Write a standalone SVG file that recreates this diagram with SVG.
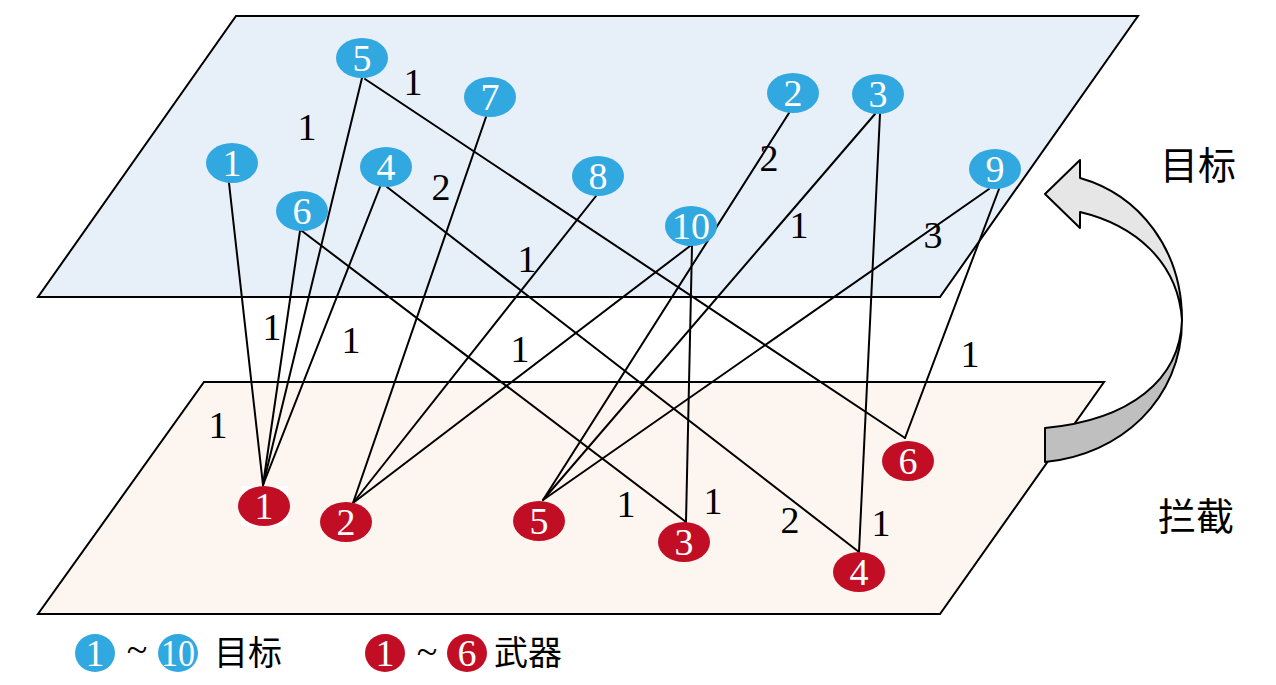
<svg xmlns="http://www.w3.org/2000/svg" width="1276" height="685" viewBox="0 0 1276 685">
<style>
.plane{stroke:#000;stroke-width:2}
.edge{stroke:#000;stroke-width:2;fill:none;stroke-linecap:round}
.bn{fill:#31A8E0}
.rn{fill:#C10E25}
.nt{font-family:"Liberation Serif","Times New Roman",serif;font-size:38px;fill:#fff;text-anchor:middle}
.wt{font-family:"Liberation Serif","Times New Roman",serif;font-size:38px;fill:#000;text-anchor:middle}
.cj{font-family:"Noto Sans CJK SC",sans-serif;fill:#000;text-anchor:middle}
.arr{stroke:#000;stroke-width:2;stroke-linejoin:round}
</style>
<rect width="1276" height="685" fill="#fff"/>
<g id="planes">
<polygon class="plane" points="236,16 1138,16 940,297 38,297" fill="#E7EFF9"/>
<polygon class="plane" points="204,382 1104,382 940,614 38,614" fill="#FDF5F0"/>
</g>
<g id="cycle-arrow">
<path class="arr" fill="#E6E6E6" d="M1080,178 C1140,195 1182,250 1182,320 C1178,262 1135,225 1080,212 L1080,228 L1045,194 L1080,160 Z"/>
<path class="arr" fill="#BFBFBF" d="M1045,428 C1130,420 1180,380 1182,320 C1182,400 1120,455 1045,462 Z"/>
</g>
<g id="connectors">
<line class="edge" x1="229" y1="183" x2="263" y2="485"/>
<line class="edge" x1="300" y1="231" x2="263" y2="485"/>
<line class="edge" x1="362" y1="78" x2="263" y2="485"/>
<line class="edge" x1="380" y1="187" x2="263" y2="485"/>
<line class="edge" x1="365" y1="79" x2="905" y2="438"/>
<line class="edge" x1="486" y1="117" x2="353" y2="503"/>
<line class="edge" x1="596" y1="196" x2="353" y2="503"/>
<line class="edge" x1="690" y1="246" x2="353" y2="503"/>
<line class="edge" x1="692" y1="246" x2="686" y2="522"/>
<line class="edge" x1="302" y1="231" x2="686" y2="522"/>
<line class="edge" x1="789" y1="113" x2="543" y2="500"/>
<line class="edge" x1="875" y1="114" x2="543" y2="500"/>
<line class="edge" x1="989" y1="189" x2="543" y2="500"/>
<line class="edge" x1="880" y1="114" x2="859" y2="552"/>
<line class="edge" x1="387" y1="187" x2="859" y2="552"/>
<line class="edge" x1="999" y1="189" x2="905" y2="438"/>
</g>
<g id="weights">
<text class="wt" x="413" y="95">1</text>
<text class="wt" x="307" y="140">1</text>
<text class="wt" x="441" y="200">2</text>
<text class="wt" x="527" y="272">1</text>
<text class="wt" x="769" y="171">2</text>
<text class="wt" x="799" y="238">1</text>
<text class="wt" x="933" y="248">3</text>
<text class="wt" x="272" y="340">1</text>
<text class="wt" x="351" y="353">1</text>
<text class="wt" x="520" y="362">1</text>
<text class="wt" x="218" y="438">1</text>
<text class="wt" x="970" y="367">1</text>
<text class="wt" x="626" y="517">1</text>
<text class="wt" x="713" y="514">1</text>
<text class="wt" x="790" y="533">2</text>
<text class="wt" x="881" y="536">1</text>
</g>
<g id="target-1"><ellipse class="bn" cx="232" cy="163" rx="26" ry="20"/><text class="nt" x="232" y="176">1</text></g>
<g id="target-2"><ellipse class="bn" cx="793" cy="93" rx="26" ry="20"/><text class="nt" x="793" y="106">2</text></g>
<g id="target-3"><ellipse class="bn" cx="878" cy="94" rx="26" ry="20"/><text class="nt" x="878" y="107">3</text></g>
<g id="target-4"><ellipse class="bn" cx="386" cy="167" rx="26" ry="20"/><text class="nt" x="386" y="180">4</text></g>
<g id="target-5"><ellipse class="bn" cx="362" cy="58" rx="26" ry="20"/><text class="nt" x="362" y="71">5</text></g>
<g id="target-6"><ellipse class="bn" cx="302" cy="211" rx="26" ry="20"/><text class="nt" x="302" y="224">6</text></g>
<g id="target-7"><ellipse class="bn" cx="490" cy="97" rx="26" ry="20"/><text class="nt" x="490" y="110">7</text></g>
<g id="target-8"><ellipse class="bn" cx="598" cy="176" rx="26" ry="20"/><text class="nt" x="598" y="189">8</text></g>
<g id="target-9"><ellipse class="bn" cx="995" cy="169" rx="26" ry="20"/><text class="nt" x="995" y="182">9</text></g>
<g id="target-10"><ellipse class="bn" cx="691" cy="226" rx="26" ry="20"/><text class="nt" x="691" y="239" textLength="38" lengthAdjust="spacingAndGlyphs">10</text></g>
<g id="weapon-1"><rect x="241" y="486" width="47" height="40" fill="#fff"/><ellipse class="rn" cx="264" cy="506" rx="26" ry="20"/><text class="nt" x="264" y="519">1</text></g>
<g id="weapon-2"><ellipse class="rn" cx="346" cy="522" rx="26" ry="20"/><text class="nt" x="346" y="535">2</text></g>
<g id="weapon-3"><ellipse class="rn" cx="684" cy="542" rx="26" ry="20"/><text class="nt" x="684" y="555">3</text></g>
<g id="weapon-4"><ellipse class="rn" cx="859" cy="572" rx="26" ry="20"/><text class="nt" x="859" y="585">4</text></g>
<g id="weapon-5"><ellipse class="rn" cx="539" cy="521" rx="26" ry="20"/><text class="nt" x="539" y="534">5</text></g>
<g id="weapon-6"><ellipse class="rn" cx="908" cy="461" rx="26" ry="20"/><text class="nt" x="908" y="474">6</text></g>
<g id="side-labels">
<text class="cj" x="1198" y="179" font-size="38">目标</text>
<text class="cj" x="1196" y="530" font-size="38">拦截</text>
</g>
<g id="legend">
<ellipse class="bn" cx="95" cy="653" rx="20" ry="19"/><text class="nt" x="95" y="666">1</text>
<text class="wt" x="137" y="662" font-size="28">~</text>
<ellipse class="bn" cx="178" cy="653" rx="20" ry="19"/><text class="nt" x="178" y="666" textLength="34" lengthAdjust="spacingAndGlyphs">10</text>
<text class="cj" x="248" y="665" font-size="34">目标</text>
<ellipse class="rn" cx="385" cy="653" rx="20" ry="19"/><text class="nt" x="385" y="666">1</text>
<text class="wt" x="427" y="664" font-size="28">~</text>
<ellipse class="rn" cx="467" cy="653" rx="20" ry="19"/><text class="nt" x="467" y="666">6</text>
<text class="cj" x="528" y="665" font-size="34">武器</text>
</g>
</svg>
